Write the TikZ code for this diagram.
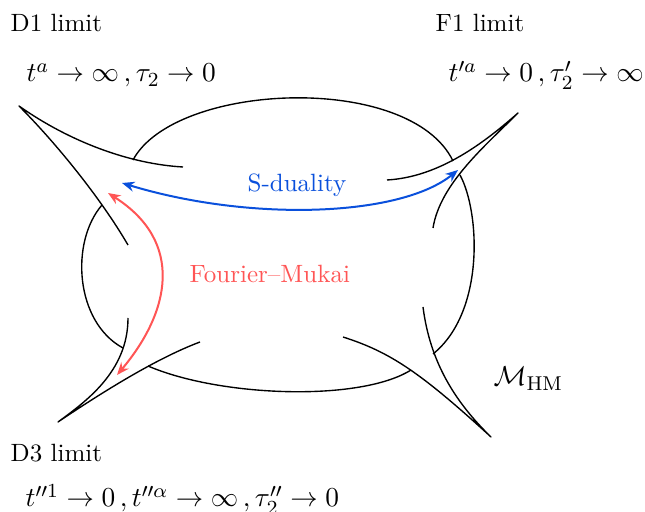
\documentclass[tikz,border=0pt]{standalone}
\usepackage{amsmath, amssymb}
\usetikzlibrary{arrows.meta}
\definecolor{sdblue}{RGB}{10,80,220}
\definecolor{fmred}{RGB}{255,85,85}

\begin{document}
\begin{tikzpicture}[x=0.4pt, y=0.4pt, >={Stealth[length=5pt, width=4pt]},
    line width=0.55pt, line join=round,
    lbl/.style={anchor=base west, inner sep=0},
    limlbl/.style={lbl, font=\fontsize{10.95}{13}\selectfont}]
    \useasboundingbox (0,0) rectangle (645,512);
    % moduli space, drawn between the cusps
    \draw (133,352) .. controls (175,430) and (410,440) .. (453,351);
    \draw (460,337) .. controls (480,300) and (485,200) .. (433,158);
    \draw (411,142) .. controls (360,110) and (220,115) .. (148,146);
    \draw (123,164) .. controls (75,190) and (70,270) .. (102,307);
    % D1 cusp
    \draw (128,267) .. controls (100,315) and (55,370) .. (19,406)
        .. controls (70,370) and (130,348) .. (183,345);
    % F1 cusp
    \draw (387,332) .. controls (440,335) and (485,370) .. (518,399)
        .. controls (485,366) and (440,328) .. (433,284);
    % D3 cusp
    \draw (128,194) .. controls (128,140) and (85,110) .. (58,90)
        .. controls (110,125) and (160,155) .. (200,170);
    % fourth cusp
    \draw (343,175) .. controls (390,160) and (420,140) .. (491,75)
        .. controls (455,110) and (430,150) .. (423,205);
    % limits
    \node[lbl] (d1) at (10,480) {D1 limit};
    \node[limlbl] (d1lim) at (26,430) {$t^a\to\infty\,,\tau_2\to0$};
    \node[lbl] (f1) at (435,480) {F1 limit};
    \node[limlbl] (f1lim) at (448,430) {$t'^a\to0\,,\tau'_2\to\infty$};
    \node[lbl] (d3) at (10,50) {D3 limit};
    \node[limlbl] (d3lim) at (25,5) {$t''^1\to0\,,t''^\alpha\to\infty\,,\tau''_2\to0$};
    \node[limlbl] (mhm) at (493,126) {$\mathcal{M}_{\rm HM}$};
    % dualities
    \coordinate (sdL) at (122,329);
    \coordinate (sdR) at (458,342);
    \draw[<->, sdblue, line width=0.8pt] (sdL) .. controls (250,290) and (400,295) .. (sdR);
    \node[lbl, sdblue] (sd) at (247,320) {S-duality};
    \coordinate (fmT) at (108,319);
    \coordinate (fmB) at (117,137);
    \draw[<->, fmred, line width=0.8pt] (fmT) .. controls (185,270) and (170,200) .. (fmB);
    \node[lbl, fmred] (fm) at (189,229) {Fourier--Mukai};
\end{tikzpicture}
\end{document}
